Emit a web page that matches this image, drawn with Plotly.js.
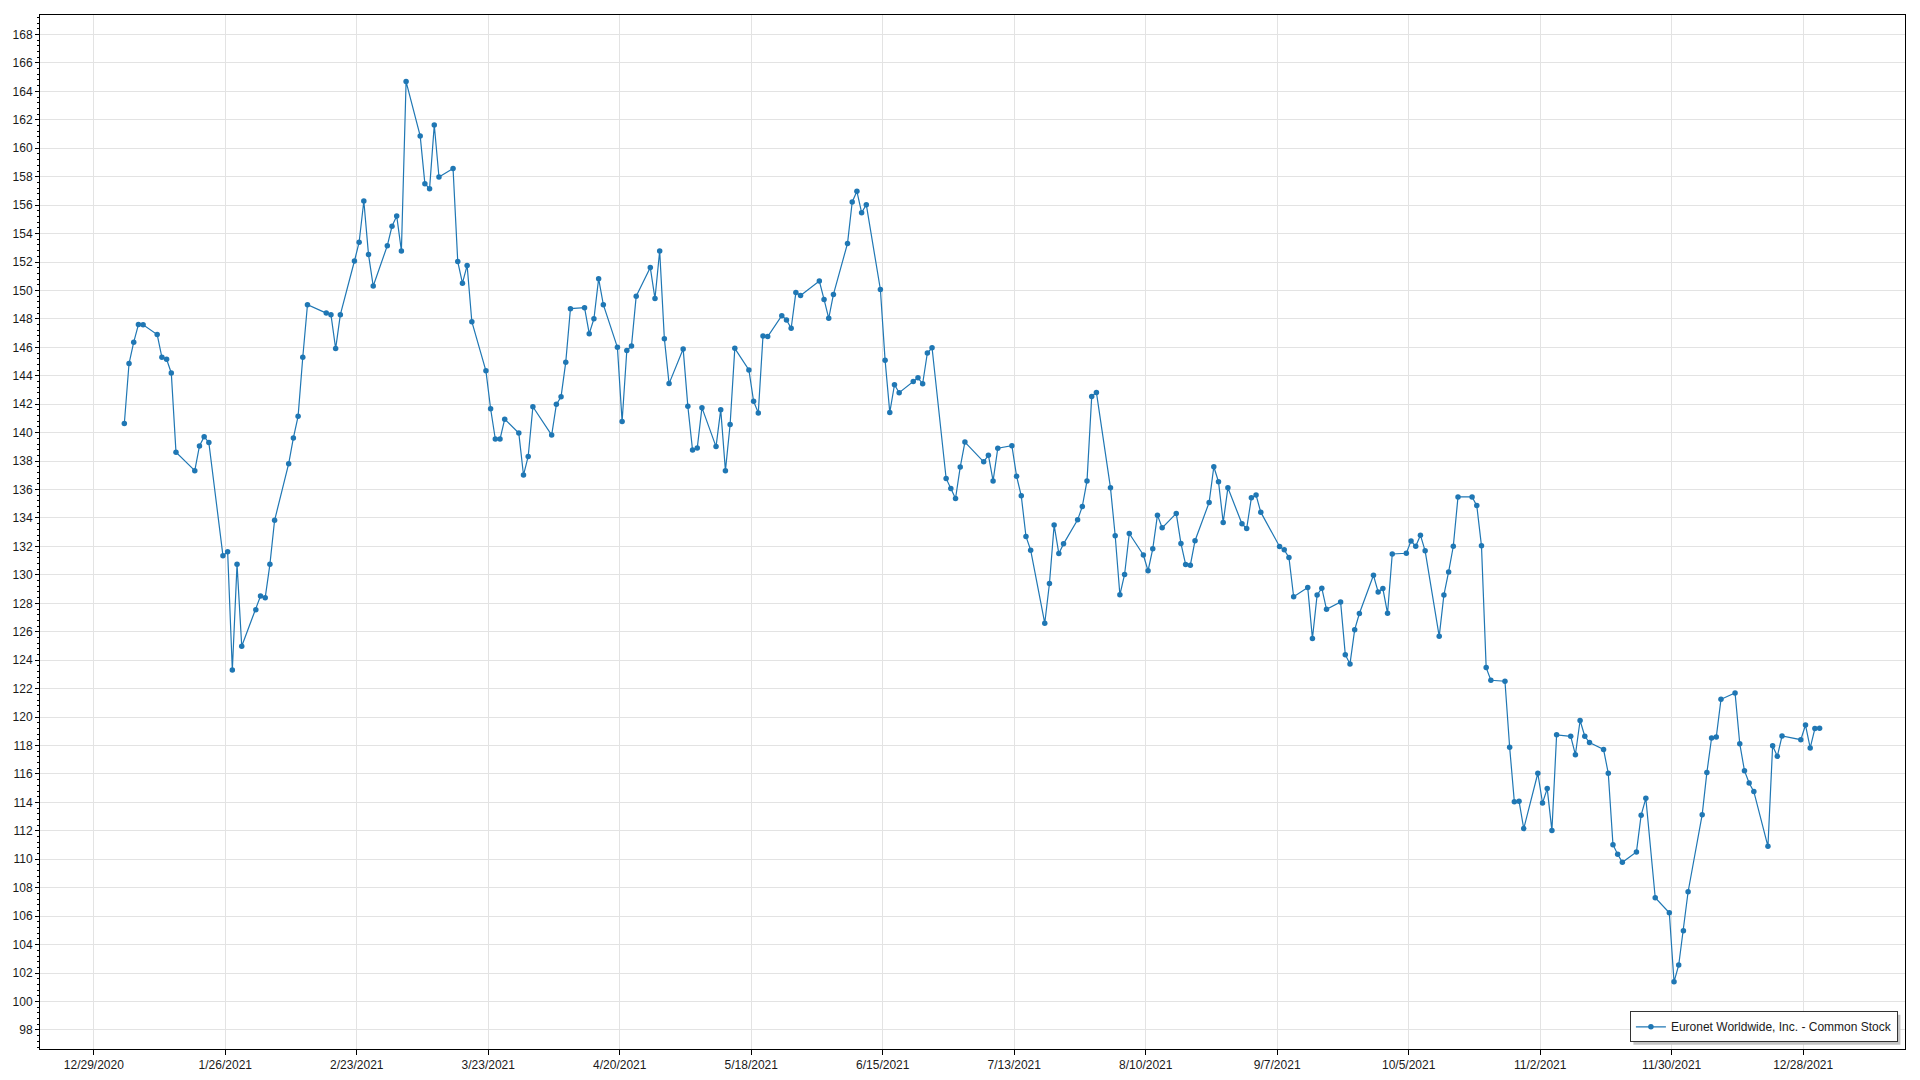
<!DOCTYPE html>
<html>
<head>
<meta charset="utf-8">
<script src="https://cdn.plot.ly/plotly-3.0.1.min.js"></script>
<style>
html,body{margin:0;padding:0;background:#fff;}
#chart{width:1920px;height:1080px;}
</style>
</head>
<body>
<div id="chart"></div>
<script>
// ---- data ----
const seriesName = 'Euronet Worldwide, Inc. - Common Stock';

const tradeDates = [
'2021-01-04','2021-01-05','2021-01-06','2021-01-07','2021-01-08','2021-01-11','2021-01-12','2021-01-13','2021-01-14','2021-01-15',
'2021-01-19','2021-01-20','2021-01-21','2021-01-22','2021-01-25','2021-01-26','2021-01-27','2021-01-28','2021-01-29',
'2021-02-01','2021-02-02','2021-02-03','2021-02-04','2021-02-05','2021-02-08','2021-02-09','2021-02-10','2021-02-11','2021-02-12',
'2021-02-16','2021-02-17','2021-02-18','2021-02-19','2021-02-22','2021-02-23','2021-02-24','2021-02-25','2021-02-26',
'2021-03-01','2021-03-02','2021-03-03','2021-03-04','2021-03-05','2021-03-08','2021-03-09','2021-03-10','2021-03-11','2021-03-12',
'2021-03-15','2021-03-16','2021-03-17','2021-03-18','2021-03-19','2021-03-22','2021-03-23','2021-03-24','2021-03-25','2021-03-26',
'2021-03-29','2021-03-30','2021-03-31',
'2021-04-01','2021-04-05','2021-04-06','2021-04-07','2021-04-08','2021-04-09','2021-04-12','2021-04-13','2021-04-14','2021-04-15',
'2021-04-16','2021-04-19','2021-04-20','2021-04-21','2021-04-22','2021-04-23','2021-04-26','2021-04-27','2021-04-28','2021-04-29','2021-04-30',
'2021-05-03','2021-05-04','2021-05-05','2021-05-06','2021-05-07','2021-05-10','2021-05-11','2021-05-12','2021-05-13','2021-05-14',
'2021-05-17','2021-05-18','2021-05-19','2021-05-20','2021-05-21','2021-05-24','2021-05-25','2021-05-26','2021-05-27','2021-05-28',
'2021-06-01','2021-06-02','2021-06-03','2021-06-04','2021-06-07','2021-06-08','2021-06-09','2021-06-10','2021-06-11',
'2021-06-14','2021-06-15','2021-06-16','2021-06-17','2021-06-18','2021-06-21','2021-06-22','2021-06-23','2021-06-24','2021-06-25',
'2021-06-28','2021-06-29','2021-06-30',
'2021-07-01','2021-07-02','2021-07-06','2021-07-07','2021-07-08','2021-07-09','2021-07-12','2021-07-13','2021-07-14','2021-07-15','2021-07-16',
'2021-07-19','2021-07-20','2021-07-21','2021-07-22','2021-07-23','2021-07-26','2021-07-27','2021-07-28','2021-07-29','2021-07-30',
'2021-08-02','2021-08-03','2021-08-04','2021-08-05','2021-08-06','2021-08-09','2021-08-10','2021-08-11','2021-08-12','2021-08-13',
'2021-08-16','2021-08-17','2021-08-18','2021-08-19','2021-08-20','2021-08-23','2021-08-24','2021-08-25','2021-08-26','2021-08-27',
'2021-08-30','2021-08-31',
'2021-09-01','2021-09-02','2021-09-03','2021-09-07','2021-09-08','2021-09-09','2021-09-10','2021-09-13','2021-09-14','2021-09-15',
'2021-09-16','2021-09-17','2021-09-20','2021-09-21','2021-09-22','2021-09-23','2021-09-24','2021-09-27','2021-09-28','2021-09-29','2021-09-30',
'2021-10-01','2021-10-04','2021-10-05','2021-10-06','2021-10-07','2021-10-08','2021-10-11','2021-10-12','2021-10-13','2021-10-14',
'2021-10-15','2021-10-18','2021-10-19','2021-10-20','2021-10-21','2021-10-22','2021-10-25','2021-10-26','2021-10-27','2021-10-28','2021-10-29',
'2021-11-01','2021-11-02','2021-11-03','2021-11-04','2021-11-05','2021-11-08','2021-11-09','2021-11-10','2021-11-11','2021-11-12',
'2021-11-15','2021-11-16','2021-11-17','2021-11-18','2021-11-19','2021-11-22','2021-11-23','2021-11-24','2021-11-26','2021-11-29','2021-11-30',
'2021-12-01','2021-12-02','2021-12-03','2021-12-06','2021-12-07','2021-12-08','2021-12-09','2021-12-10','2021-12-13','2021-12-14',
'2021-12-15','2021-12-16','2021-12-17','2021-12-20','2021-12-21','2021-12-22','2021-12-23','2021-12-27','2021-12-28','2021-12-29',
'2021-12-30','2021-12-31'
];

const closePrices = [
140.64,144.86,146.36,147.60,147.58,146.90,145.30,145.16,144.20,138.62,
137.33,139.07,139.72,139.30,131.35,131.63,123.31,130.74,124.98,
127.55,128.52,128.40,130.74,133.84,137.82,139.63,141.15,145.30,149.00,
148.41,148.30,145.91,148.30,152.07,153.39,156.29,152.52,150.31,
153.15,154.51,155.24,152.78,164.69,160.87,157.51,157.16,161.64,157.98,
158.57,152.03,150.51,151.76,147.80,144.35,141.68,139.55,139.55,140.95,
139.97,137.02,138.33,
141.82,139.83,141.99,142.53,144.96,148.72,148.79,146.96,148.01,150.83,
149.00,146.00,140.79,145.78,146.10,149.59,151.61,149.43,152.78,146.61,143.45,
145.89,141.85,138.78,138.92,141.76,139.02,141.62,137.33,140.57,145.93,
144.41,142.21,141.39,146.80,146.76,148.23,147.93,147.34,149.85,149.65,
150.66,149.37,148.04,149.72,153.31,156.22,156.97,155.47,156.03,
150.07,145.10,141.42,143.37,142.81,143.60,143.86,143.44,145.60,145.97,
136.78,136.08,135.37,
137.58,139.34,137.95,138.42,136.61,138.91,139.08,136.94,135.56,132.70,131.74,
126.60,129.39,133.50,131.50,132.18,133.87,134.81,136.61,142.55,142.83,
136.12,132.75,128.60,130.03,132.91,131.40,130.29,131.83,134.20,133.31,
134.32,132.21,130.73,130.68,132.40,135.09,137.60,136.55,133.69,136.12,
133.59,133.26,
135.42,135.61,134.41,132.00,131.76,131.22,128.46,129.11,125.52,128.59,
129.06,127.58,128.10,124.39,123.74,126.15,127.28,129.97,128.80,129.04,127.30,
131.47,131.52,132.39,132.01,132.79,131.69,125.68,128.59,130.21,132.01,
135.48,135.48,134.87,132.04,123.48,122.59,122.52,117.88,114.04,114.08,112.16,
116.05,113.96,114.97,112.02,118.75,118.65,117.36,119.76,118.65,118.21,
117.72,116.05,111.03,110.35,109.79,110.52,113.10,114.29,107.30,106.24,101.39,
102.56,104.98,107.72,113.14,116.11,118.53,118.60,121.25,121.70,118.13,
116.23,115.36,114.76,110.91,117.99,117.24,118.67,118.41,119.44,117.83,
119.19,119.21
];

const tickDates = ['2020-12-29','2021-01-26','2021-02-23','2021-03-23','2021-04-20','2021-05-18','2021-06-15',
'2021-07-13','2021-08-10','2021-09-07','2021-10-05','2021-11-02','2021-11-30','2021-12-28'];
const tickLabels = ['12/29/2020','1/26/2021','2/23/2021','3/23/2021','4/20/2021','5/18/2021','6/15/2021',
'7/13/2021','8/10/2021','9/7/2021','10/5/2021','11/2/2021','11/30/2021','12/28/2021'];

// ---- chart ----
const FONT = 'Liberation Sans, Arial, sans-serif';
// the reference draws its date grid half a day before each session's point
const tickPositions = tickDates.map(d => {
  const t = new Date(d + 'T00:00:00Z').getTime() - 12 * 3600 * 1000;
  return new Date(t).toISOString().slice(0, 16).replace('T', ' ');
});

const trace = {
  type: 'scatter',
  mode: 'lines+markers',
  name: seriesName,
  x: tradeDates,
  y: closePrices,
  line: {color: '#1f77b4', width: 1.2},
  marker: {color: '#1f77b4', size: 5.5},
  showlegend: true
};

const layout = {
  width: 1920,
  height: 1080,
  margin: {l: 40, r: 15, t: 15, b: 31, pad: 0},
  paper_bgcolor: '#ffffff',
  plot_bgcolor: '#ffffff',
  font: {family: FONT, size: 12, color: '#1a1a1a'},
  showlegend: true,
  xaxis: {
    type: 'date',
    range: ['2020-12-17 01:00', '2022-01-18 04:30'],
    tickvals: tickPositions,
    ticktext: tickLabels,
    showgrid: true,
    gridcolor: '#e3e3e3',
    gridwidth: 1,
    zeroline: false,
    showline: true,
    linecolor: '#000000',
    linewidth: 1,
    mirror: true,
    ticks: 'outside',
    ticklen: 5,
    tickcolor: '#000000',
    tickfont: {family: FONT, size: 12, color: '#1a1a1a'}
  },
  yaxis: {
    range: [96.66, 169.37],
    tick0: 0,
    dtick: 2,
    showgrid: true,
    gridcolor: '#e3e3e3',
    gridwidth: 1,
    zeroline: false,
    showline: true,
    linecolor: '#000000',
    linewidth: 1,
    mirror: true,
    ticks: 'outside',
    ticklen: 4,
    tickcolor: '#000000',
    tickfont: {family: FONT, size: 12, color: '#1a1a1a'},
    minor: {dtick: 0.4, tick0: 0, ticks: 'outside', ticklen: 2, tickcolor: '#000000', showgrid: false}
  },
  legend: {
    x: 0.9962,
    y: 0.0065,
    xanchor: 'right',
    yanchor: 'bottom',
    bgcolor: '#ffffff',
    bordercolor: '#333333',
    borderwidth: 1,
    font: {family: FONT, size: 12, color: '#1a1a1a'},
    itemwidth: 30
  }
};

const gd = document.getElementById('chart');
Plotly.newPlot(gd, [trace], layout, {displayModeBar: false, staticPlot: true}).then(() => {
  // soft drop shadow under the legend box, as in the reference
  const bg = gd.querySelector('.legend .bg');
  if (!bg) return;
  const r = bg.getBoundingClientRect();
  const c = gd.getBoundingClientRect();
  const fs = gd._fullLayout._size;
  const px = x => (x - c.left - fs.l) / fs.w;
  const py = y => 1 - (y - c.top - fs.t) / fs.h;
  const off = 3;
  return Plotly.relayout(gd, {
    shapes: [{
      type: 'rect', xref: 'paper', yref: 'paper', layer: 'above',
      x0: px(r.left + off), x1: px(r.right + off),
      y0: py(r.bottom + off), y1: py(r.top + off),
      fillcolor: '#c4c4c4', line: {width: 0}
    }]
  });
});
</script>
</body>
</html>
